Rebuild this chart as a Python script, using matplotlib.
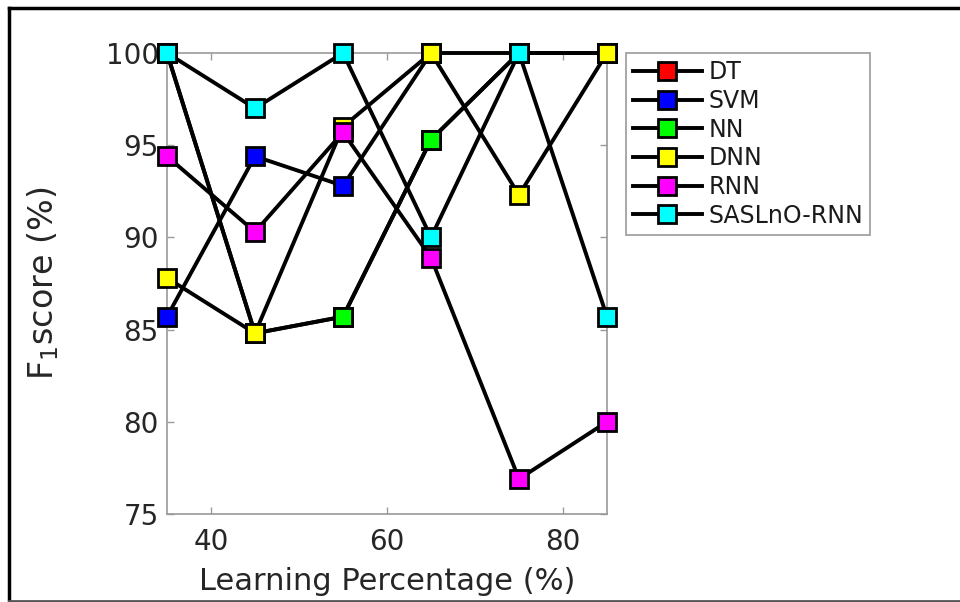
import matplotlib
matplotlib.use("Agg")
import matplotlib.pyplot as plt
from matplotlib.lines import Line2D

# learning percentage on the x axis
learning_pct = [35, 45, 55, 65, 75, 85]

# F1 score (%) per method
f1_dt = [100, 84.8, 85.7, 95.3, 100, 100]
f1_svm = [85.7, 94.4, 92.8, 100, 100, 100]
f1_nn = [100, 84.8, 85.7, 95.3, 100, 100]
f1_dnn = [87.8, 84.8, 96.0, 100, 92.3, 100]
f1_rnn = [94.4, 90.3, 95.7, 88.9, 76.9, 80.0]
f1_saslno = [100, 97.0, 100, 90.0, 100, 85.7]

method_names = ["DT", "SVM", "NN", "DNN", "RNN", "SASLnO-RNN"]
method_colors = ["#ff0000", "#0000ff", "#00ff00", "#ffff00", "#ff00ff", "#00ffff"]

x_ticks = [40, 60, 80]
y_ticks = [75, 80, 85, 90, 95, 100]

W, H = 960, 602
plt.rcParams['font.family'] = ['DejaVu Sans']
plt.rcParams['mathtext.fontset'] = 'dejavusans'

fig = plt.figure(figsize=(W / 100, H / 100), dpi=100)
ax = fig.add_axes([167 / W, 1 - 514 / H, (607 - 167) / W, (514 - 53) / H])

series = [f1_dt, f1_svm, f1_nn, f1_dnn, f1_rnn, f1_saslno]
for vals, name, col in zip(series, method_names, method_colors):
    ax.plot(learning_pct, vals, color='black', lw=2.8, marker='s', ms=13.5,
            mfc=col, mec='black', mew=2.0, label=name, clip_on=False, zorder=3)

ax.set_xlim(35, 85)
ax.set_ylim(75, 100)
ax.set_xticks(x_ticks)
ax.set_yticks(y_ticks)

axis_grey = '#9a9a9a'
for sp in ax.spines.values():
    sp.set_color(axis_grey)
    sp.set_linewidth(1.2)
ax.tick_params(direction='in', length=5, width=1, color=axis_grey,
               top=True, right=True, labelsize=20, labelcolor='#262626')
ax.tick_params(axis='x', pad=10)
ax.tick_params(axis='y', pad=6)

ax.set_xlabel('Learning Percentage (%)', fontsize=22, color='#262626', labelpad=8)
ax.set_ylabel(r'F$_1$score (%)', fontsize=24, color='#262626', labelpad=32)

leg = ax.legend(loc='upper left', bbox_to_anchor=(626 / W, 1 - 53 / H),
                bbox_transform=fig.transFigure, borderaxespad=0,
                fontsize=17, fancybox=False, framealpha=1, edgecolor=axis_grey,
                handlelength=2.9, handletextpad=0.3, labelspacing=0.2,
                borderpad=0.3, markerscale=1.0)
leg.get_frame().set_linewidth(1.2)
for t in leg.get_texts():
    t.set_color('#1a1a1a')

# outer frame around the figure
fig.add_artist(Line2D([9 / W, 9 / W], [0, 1 - 8 / H], color='black', lw=2.5,
                      transform=fig.transFigure))
fig.add_artist(Line2D([9 / W, 1], [1 - 8 / H, 1 - 8 / H], color='black', lw=2.5,
                      transform=fig.transFigure))
fig.add_artist(Line2D([9 / W, 1], [1.5 / H, 1.5 / H], color='#555555', lw=2,
                      transform=fig.transFigure))

fig.savefig('out.png', dpi=100)
